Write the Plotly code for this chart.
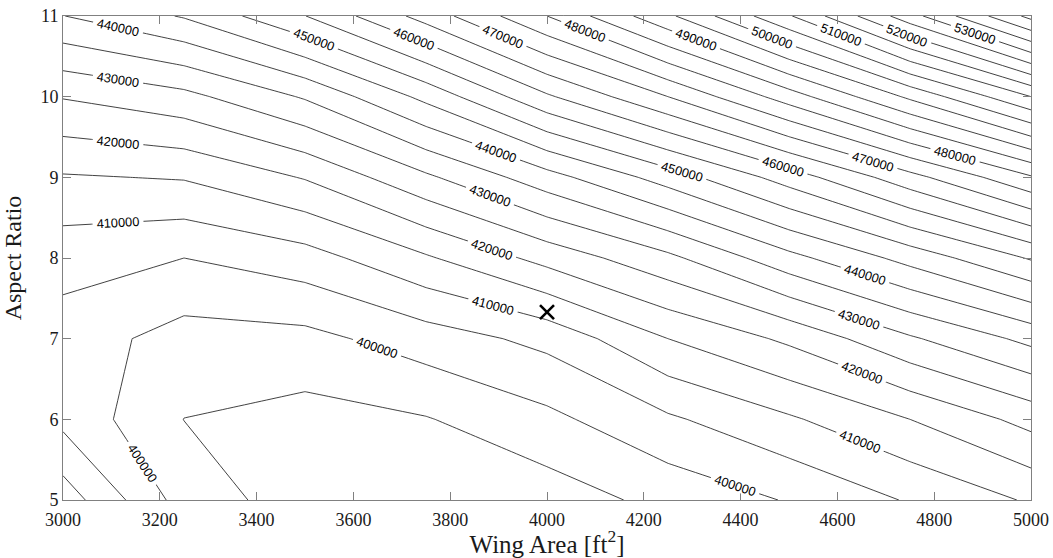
import math
import plotly.graph_objects as go

# Grid of the trade study: wing area [ft^2] x aspect ratio
wing_area = [3000, 3250, 3500, 3750, 4000, 4250, 4500, 4750, 5000]
aspect_ratio = [5, 6, 7, 8, 9, 10, 11]

# Gross weight at each grid node, one row per aspect ratio
weight_ar5 = [412760, 397800, 392500, 391000, 392400, 396500, 400350, 405470, 410600]
weight_ar6 = [403600, 394950, 393170, 394700, 398700, 404200, 409300, 415000, 421700]
weight_ar7 = [402650, 398010, 398500, 402500, 406430, 415000, 421000, 429300, 436430]
weight_ar8 = [406970, 405000, 407830, 414350, 421730, 428750, 438400, 446800, 455500]
weight_ar9 = [414550, 415360, 420350, 429060, 437980, 447300, 457300, 468200, 479430]
weight_ar10 = [425300, 428500, 435540, 446400, 459250, 470000, 482500, 496000, 510000]
weight_ar11 = [439900, 445430, 454900, 467000, 480000, 494000, 509500, 528000, 546500]
weight = [weight_ar5, weight_ar6, weight_ar7, weight_ar8, weight_ar9, weight_ar10, weight_ar11]

# Selected design point
design_area = [4000]
design_ar = [7.33]

x_ticks = list(range(3000, 5001, 200))
y_ticks = list(range(5, 12))

# Where the inline level labels sit: (level, wing area, aspect ratio) near the line;
# each one is snapped onto the computed contour of that level.
label_spots = [
    (440000, 3114, 10.86), (440000, 3897, 9.36), (440000, 4657, 7.81),
    (430000, 3114, 10.23), (430000, 3882, 8.78), (430000, 4645, 7.23),
    (420000, 3114, 9.40), (420000, 3888, 8.14), (420000, 4651, 6.59),
    (410000, 3114, 8.42), (410000, 3888, 7.39), (410000, 4647, 5.72),
    (400000, 3649, 6.89), (400000, 3159, 5.43), (400000, 4388, 5.15),
    (450000, 3517, 10.68), (450000, 4279, 9.09),
    (460000, 3723, 10.70), (460000, 4488, 9.13),
    (470000, 3909, 10.76), (470000, 4672, 9.18),
    (480000, 4074, 10.76), (480000, 4843, 9.25),
    (490000, 4306, 10.67), (500000, 4461, 10.67), (510000, 4605, 10.74),
    (520000, 4746, 10.80), (530000, 4888, 10.85),
]

W, H = 1053, 558
ML, MR, MT, MB = 63, 22, 16, 58
PW, PH = W - ML - MR, H - MT - MB
X0, X1 = 3000, 5000
Y0, Y1 = 5, 11


def to_px(xv, yv):
    return ML + (xv - X0) / (X1 - X0) * PW, MT + (Y1 - yv) / (Y1 - Y0) * PH


def level_segments(level):
    """Linear-interpolated contour segments of one level (marching squares)."""
    segs = []
    for j in range(len(aspect_ratio) - 1):
        for i in range(len(wing_area) - 1):
            c = [(wing_area[i], aspect_ratio[j], weight[j][i]),
                 (wing_area[i + 1], aspect_ratio[j], weight[j][i + 1]),
                 (wing_area[i + 1], aspect_ratio[j + 1], weight[j + 1][i + 1]),
                 (wing_area[i], aspect_ratio[j + 1], weight[j + 1][i])]
            pts = []
            for k in range(4):
                xa, ya, za = c[k]
                xb, yb, zb = c[(k + 1) % 4]
                if (za >= level) != (zb >= level):
                    t = (level - za) / (zb - za)
                    pts.append((xa + t * (xb - xa), ya + t * (yb - ya)))
            for s in range(0, len(pts) - 1, 2):
                segs.append((pts[s], pts[s + 1]))
    return segs


def snap_label(level, xh, yh):
    hx, hy = to_px(xh, yh)
    best = None
    for (xa, ya), (xb, yb) in level_segments(level):
        ax, ay = to_px(xa, ya)
        bx, by = to_px(xb, yb)
        dx, dy = bx - ax, by - ay
        L2 = dx * dx + dy * dy
        if L2 == 0:
            continue
        t = max(0.0, min(1.0, ((hx - ax) * dx + (hy - ay) * dy) / L2))
        px, py = ax + t * dx, ay + t * dy
        d = (px - hx) ** 2 + (py - hy) ** 2
        if best is None or d < best[0]:
            ang = math.degrees(math.atan2(dy, dx))
            if ang > 90:
                ang -= 180
            elif ang <= -90:
                ang += 180
            best = (d, xa + t * (xb - xa), ya + t * (yb - ya), ang)
    return best[1:]


fig = go.Figure()

# All contour levels every 5000
fig.add_trace(go.Contour(
    x=wing_area, y=aspect_ratio, z=weight,
    contours=dict(coloring="none", start=395000, end=545000, size=5000,
                  showlabels=False),
    line=dict(color="#111111", width=0.8, smoothing=0),
    showscale=False, hoverinfo="skip",
))

fig.add_trace(go.Scatter(
    x=design_area, y=design_ar, mode="markers",
    marker=dict(symbol="x-thin", size=14, line=dict(width=2.6, color="black")),
    showlegend=False, hoverinfo="skip",
))

annotations = []
for level, xh, yh in label_spots:
    lx, ly, ang = snap_label(level, xh, yh)
    annotations.append(dict(
        x=lx, y=ly, xref="x", yref="y", text=f"{level:d}", showarrow=False,
        textangle=ang, bgcolor="white", borderpad=0, width=50, height=11,
        font=dict(family="Liberation Sans", size=12.8, color="black"),
    ))

axis_common = dict(
    showgrid=False, zeroline=False, showline=True, linecolor="#808080",
    linewidth=1, mirror="ticks", ticks="inside", ticklen=8, tickcolor="#808080",
    tickfont=dict(family="Liberation Serif", size=18, color="#1a1a1a"),
    automargin=False,
)

fig.update_layout(
    width=W, height=H,
    margin=dict(l=ML, r=MR, t=MT, b=MB),
    paper_bgcolor="white", plot_bgcolor="white",
    showlegend=False,
    annotations=annotations,
    xaxis=dict(range=[X0, X1], tickvals=x_ticks, ticklabelstandoff=3,
               title=dict(text="Wing Area [ft<sup>2</sup>]", standoff=0,
                          font=dict(family="Liberation Serif", size=25, color="#1a1a1a")),
               **axis_common),
    yaxis=dict(range=[Y0, Y1], tickvals=y_ticks,
               title=dict(text="Aspect Ratio", standoff=12,
                          font=dict(family="Liberation Serif", size=24, color="#1a1a1a")),
               **axis_common),
)

fig.write_html("out.html")
